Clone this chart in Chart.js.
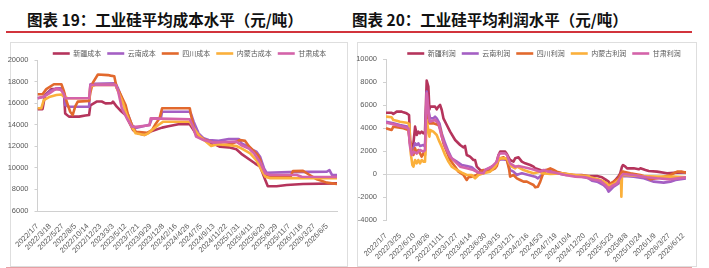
<!DOCTYPE html>
<html>
<head>
<meta charset="utf-8">
<script src="https://cdn.jsdelivr.net/npm/chart.js@4/dist/chart.umd.min.js"></script>
<style>
  body { margin: 0; width: 709px; height: 268px; background: #fff; position: relative; overflow: hidden; font-family: "Noto Sans CJK SC", sans-serif; }
  .title { position: absolute; top: 8px; font-size: 15.5px; font-weight: 700; color: #111; white-space: nowrap; line-height: 22px; }
  .rule { position: absolute; left: 6px; width: 686px; top: 31px; height: 2px; background: #d2343c; }
  .foot { position: absolute; left: 6px; width: 686px; top: 267px; height: 1px; background: #e6a0a4; }
  .frame { position: absolute; top: 42px; height: 225px; border: 1px solid #dedede; box-sizing: border-box; }
  canvas { position: absolute; top: 42px; }
</style>
</head>
<body>
<div class="title" style="left:27px">图表 19：工业硅平均成本水平（元/吨）</div>
<div class="title" style="left:352px">图表 20：工业硅平均利润水平（元/吨）</div>
<div class="rule"></div>
<div class="frame" style="left:10px;width:338px"></div>
<div class="frame" style="left:357px;width:340px"></div>
<div class="foot"></div>
<canvas id="cost" width="347" height="224" style="left:0px"></canvas>
<canvas id="profit" width="346" height="224" style="left:350px"></canvas>
<script>
// series names and colours (Excel order: 新疆, 云南, 四川, 内蒙古, 甘肃)
const costNames = ["新疆成本", "云南成本", "四川成本", "内蒙古成本", "甘肃成本"];
const profitNames = ["新疆利润", "云南利润", "四川利润", "内蒙古利润", "甘肃利润"];
const colors = ["#b5345c", "#a45fc4", "#e2692d", "#fbb03b", "#d463a9"];

// x tick labels, one every 10 weeks (cost) / 11 weeks (profit)
const costTicks = ["2022/1/7", "2022/3/18", "2022/5/27", "2022/8/5", "2022/10/14", "2022/12/23", "2023/3/3", "2023/5/12",
  "2023/7/21", "2023/9/29", "2023/12/8", "2024/2/16", "2024/4/26", "2024/7/5", "2024/9/13", "2024/11/22",
  "2025/1/31", "2025/4/11", "2025/6/20", "2025/8/29", "2025/11/7", "2026/1/16", "2026/3/27", "2026/6/5"];
const profitTicks = ["2022/1/7", "2022/3/25", "2022/6/10", "2022/8/26", "2022/11/11", "2023/1/27", "2023/4/14", "2023/6/30",
  "2023/9/15", "2023/12/1", "2024/2/16", "2024/5/3", "2024/7/19", "2024/10/4", "2024/12/20", "2025/3/7",
  "2025/5/23", "2025/8/8", "2025/10/24", "2026/1/9", "2026/3/27", "2026/6/12"];

// cost, [week, 元/吨]
const xjCost = [[0,15450],[4,15450],[6,16750],[11,17300],[18,17300],[21,16950],[22,15050],[25,14750],[33,14750],[38,14850],
  [41,14900],[42,15800],[47,16150],[51,16150],[54,15980],[59,16000],[60,16140],[63,15670],[66,15300],[70,14900],[73,14200],
  [76,13500],[80,13200],[85,13050],[91,13420],[99,13730],[104,13850],[112,14040],[121,14040],[124,13510],[127,12950],
  [130,12740],[136,12360],[141,12180],[145,11960],[152,11900],[158,11720],[162,11300],[169,10730],[173,10400],[177,10110],
  [181,8875],[183,8300],[190,8300],[198,8410],[211,8500],[238,8560]];
const ynCost = [[0,16450],[5,16600],[10,17100],[15,17370],[19,17370],[21,16900],[22,15830],[25,15670],[41,15670],[42,17740],
  [45,17800],[62,17840],[64,17370],[68,16140],[70,15300],[72,14900],[75,13970],[78,13700],[89,14000],[91,14590],[98,14590],
  [99,15200],[121,15200],[122,15000],[124,14300],[128,13200],[132,12740],[136,12580],[144,12500],[152,12680],[160,12680],
  [162,12300],[167,11970],[171,11660],[174,11500],[177,11000],[180,9960],[182,9550],[200,9600],[230,9650],[232,9780],
  [234,9340],[238,9340]];
const scCost = [[0,16820],[4,16820],[7,17300],[13,17750],[19,17750],[21,17100],[23,16200],[26,15200],[28,14900],[30,15700],
  [32,16140],[41,16200],[42,17000],[44,17900],[48,18650],[56,18600],[58,18550],[61,18500],[63,17400],[65,17060],[70,15830],
  [72,14900],[75,13970],[78,13340],[83,13300],[87,13250],[91,13500],[94,14100],[97,14590],[99,15520],[121,15520],[122,14900],
  [125,13360],[129,12890],[133,12580],[139,12370],[147,12120],[154,12200],[157,12370],[161,12580],[165,12500],[168,12000],
  [171,11660],[175,11200],[177,10730],[179,9800],[181,9350],[185,9200],[201,9150],[203,9700],[211,9720],[214,9500],
  [222,8940],[230,8630],[238,8500]];
const nmgCost = [[0,15520],[3,15520],[5,16290],[10,16600],[15,16750],[19,16800],[21,16600],[24,16450],[41,16450],[42,17530],
  [46,17680],[62,17680],[64,17100],[68,16000],[70,15200],[73,14300],[75,13800],[78,13200],[83,13100],[85,13050],[88,13200],
  [91,13510],[96,13970],[100,14280],[121,14280],[124,13700],[129,12900],[134,12430],[138,12030],[143,12200],[158,12030],
  [162,11800],[169,11350],[174,10700],[178,9800],[181,9180],[185,9030],[238,9030]];
const gsCost = [[0,16450],[5,16600],[10,16950],[15,17370],[19,17200],[21,16800],[22,16450],[41,16450],[42,17680],[62,17700],
  [64,17150],[67,15520],[71,14600],[75,13820],[78,13800],[89,13950],[90,14590],[121,14500],[123,14000],[126,12900],
  [132,12580],[140,12340],[149,12400],[158,12430],[162,12100],[168,11800],[172,11350],[177,10500],[181,9490],[185,9340],
  [206,9340],[210,9180],[238,9150]];

// profit, [week, 元/吨]
const xjProfit = [[0,5340],[4.4,5340],[5.7,5226],[8.3,5430],[12.2,5430],[13.5,5371],[16,5284],[17.9,5140],[18.7,2970],
  [20,2250],[21.3,2680],[22.6,4127],[23.9,3404],[25.1,3693],[26.4,3548],[27.7,3693],[29,3548],[30.3,3693],[31.6,8120],
  [32.9,7600],[33.7,5631],[34.2,5863],[38.1,5863],[39.4,5631],[40.7,5863],[42,6008],[43.3,5573],[44.6,4850],[47.2,4272],
  [49.8,3693],[53.7,2970],[57.6,2536],[60,2333],[61.4,2449],[62.7,1668],[65.3,1523],[67.9,1234],[69.2,1234],[70.5,655],
  [73.1,366],[75.7,222],[80.9,366],[82.2,655],[84.8,655],[87.4,1668],[88.7,1957],[92.6,1957],[93.9,1750],[96.4,1234],
  [99,1089],[100.3,1379],[102.9,1465],[105.5,1089],[108.1,945],[112,800],[114.6,655],[115.9,511],[119.8,366],[122.4,222],
  [123.7,366],[128,200],[140,-68],[152,-68],[157,-150],[163.9,-155],[167.8,-270],[170.3,-444],[172.9,-646],[174.2,-936],
  [175.5,-791],[178.1,-502],[180.7,-155],[181.9,77],[183.3,655],[184.1,800],[185.9,655],[187.2,511],[192.4,511],[196.3,425],
  [197.6,511],[201.5,366],[204.1,280],[210.5,222],[218.3,77],[226.1,135],[233,160]];
const ynProfit = [[0,4561],[5.7,4416],[10.9,4272],[17.4,4127],[18.7,2536],[20,2102],[21.3,2247],[22.6,2681],[23.9,2536],
  [25.1,2681],[26.4,2449],[29,2536],[30.3,2391],[31.6,7165],[32.9,5573],[34.2,4850],[36.8,4850],[38.1,4995],[39.4,4850],
  [41.5,4416],[43.3,3548],[45.9,2681],[48.5,1957],[51,1379],[55,1089],[58.9,800],[62.7,713],[66.6,598],[69.2,366],
  [71.8,135],[74.4,222],[77,366],[79.6,511],[82.2,655],[84.8,800],[87.4,1234],[90,1300],[93.9,1234],[96.4,366],[99,222],
  [101.6,-68],[102.9,0],[105.5,77],[110.7,-68],[115.9,-212],[118,-357],[121.1,-68],[122.4,222],[124.9,366],[128.9,222],
  [136.6,77],[144.4,-68],[152.2,-212],[157.4,-357],[160,-560],[163.9,-646],[169,-936],[171.6,-1225],[172.9,-1515],
  [174.2,-1370],[176.8,-1080],[180.7,-791],[183.3,-212],[184.6,-155],[192.4,-212],[200.2,-357],[208,-646],[215.7,-730],
  [220.9,-646],[224.8,-502],[233,-357]];
const scProfit = [[0,3982],[4.4,3838],[5.7,4127],[13.5,3982],[17.4,3838],[18.7,2681],[20,1957],[21.3,1668],[22.6,2247],
  [23.9,1813],[25.1,2102],[27.7,1523],[29,1813],[30.3,1668],[31.6,5500],[33.7,4416],[36.8,4416],[40.7,4272],[42,3982],
  [44.6,2681],[47.2,1957],[49.8,1234],[53.7,655],[56.3,222],[60.2,-68],[62.7,-502],[64,-270],[66.6,-212],[70.5,-68],
  [73.1,222],[75.7,366],[78.3,280],[82.2,366],[84.8,511],[86.1,713],[87.4,1234],[88.7,1379],[91.3,1465],[93.9,1234],
  [95.7,366],[96.4,-212],[99,-68],[101.6,-357],[104.2,-502],[106.8,-646],[109.4,-646],[112,-791],[114.6,-936],[115.9,-1138],
  [118,-1080],[119.8,-646],[121.6,-68],[123.7,222],[124.9,366],[127.6,511],[130.2,366],[132.7,222],[136.6,77],[144.4,-68],
  [149.6,-155],[154.8,-212],[160,-357],[163.9,-444],[169,-646],[171.6,-849],[172.9,-1022],[174.2,-791],[176.8,-646],
  [180.7,-357],[181.9,-68],[183.3,222],[184.6,222],[189.8,77],[197.6,-68],[201.5,-212],[205.4,-444],[210.5,-357],
  [215.7,-212],[220.9,-68],[226.1,222],[230,222],[233,135]];
const nmgProfit = [[0,4995],[4.4,4937],[5.7,4706],[8.3,4648],[10.9,4561],[16,4474],[18.1,4358],[19.2,1813],[20.5,800],
  [21.3,655],[22.6,1234],[23.9,945],[25.1,1234],[26.4,945],[27.7,1234],[29,1089],[30.3,1089],[31.6,4706],[33.7,3259],
  [34.2,3838],[36.8,3693],[39.4,3404],[41.5,2825],[43.3,2391],[45.9,1668],[48.5,1089],[51,655],[55,366],[58.9,135],
  [62.7,-68],[66.6,-68],[69.2,-357],[71.8,-68],[75.7,77],[80.9,222],[84.8,655],[87.4,1234],[88.7,1379],[93.9,1379],
  [95.7,945],[97.7,655],[100.3,511],[101.6,655],[102.9,598],[106.8,366],[110.7,222],[114.6,77],[119.8,222],[121.1,77],
  [127.6,20],[136.6,77],[147,-68],[157.4,-155],[158.7,-270],[166.4,-502],[171.6,-791],[172.9,-1022],[176.8,-849],
  [180.7,-502],[182.5,-357],[182.8,-1948],[183.3,-68],[184.6,-68],[197.6,-155],[210.5,-212],[223.5,-212],[233,-270]];
const gsProfit = [[0,4474],[5.7,4330],[10.9,4185],[17.4,3982],[18.7,2391],[20,1668],[21.3,1957],[23.9,1813],[26.4,2102],
  [29,1957],[30.3,2102],[31.6,7020],[33.7,4706],[34.2,4561],[38.1,4706],[40.7,4416],[43.3,3259],[45.9,2391],[49.8,1523],
  [53.7,1089],[57.6,655],[62.7,511],[67.9,366],[71.8,135],[75.7,77],[77,366],[82.2,655],[86.1,1089],[87.4,1668],
  [88.7,1813],[92.6,1813],[93.9,1668],[96.4,945],[100.3,655],[102.9,713],[105.5,655],[110.7,511],[115.9,366],[119.8,222],
  [122.4,366],[126.2,222],[131.4,135],[139.2,-68],[147,-212],[154.8,-270],[160,-444],[166.4,-560],[170.3,-936],
  [172.9,-1225],[175.5,-1022],[179.4,-791],[182.5,-212],[184.1,19],[192.4,-68],[202.8,-270],[210.5,-357],[220.9,-444],
  [233,-270]];

const costSeries = [xjCost, ynCost, scCost, nmgCost, gsCost];
const profitSeries = [xjProfit, ynProfit, scProfit, nmgProfit, gsProfit];

const tickFont = { family: "'Liberation Sans', Arial, sans-serif", size: 7.5 };
const grey = "#595959";
const axisGrey = "#d0d0d0";

// fixes the legend height and moves it sideways after layout
const legendBox = {
  id: "legendBox",
  beforeInit(chart, args, opts) {
    const fit = chart.legend.fit;
    chart.legend.fit = function () {
      fit.call(this);
      this.height = opts.height;
    };
  },
  afterLayout(chart, args, opts) {
    chart.legend.left += opts.shift;
    chart.legend.right += opts.shift;
  },
};

function makeDatasets(names, series) {
  return series.map((data, i) => ({
    label: names[i],
    data: data,
    borderColor: colors[i],
    backgroundColor: colors[i],
    borderWidth: 2.6,
    pointRadius: 0,
    borderJoinStyle: "round",
    tension: 0,
    order: series.length - i, // last series drawn on top, like Excel
  }));
}

function makeChart(id, cfg) {
  return new Chart(document.getElementById(id), {
    type: "line",
    data: { datasets: makeDatasets(cfg.names, cfg.series) },
    plugins: [legendBox],
    options: {
      responsive: false,
      animation: false,
      layout: { padding: { left: 0, right: 10, top: 2, bottom: 0 } },
      plugins: {
        legendBox: { height: cfg.legendHeight, shift: cfg.legendShift },
        tooltip: { enabled: false },
        legend: {
          position: "top",
          align: "center",
          labels: {
            usePointStyle: true,
            pointStyle: "line",
            pointStyleWidth: 17,
            padding: 6,
            color: grey,
            font: { family: "'Noto Sans CJK SC', sans-serif", size: 7 },
            sort: (a, b) => a.datasetIndex - b.datasetIndex,
          },
        },
      },
      scales: {
        x: {
          type: "linear",
          min: 0,
          max: cfg.xMax,
          afterFit: (s) => { s.height = cfg.xHeight; },
          grid: { display: false },
          border: { display: cfg.xBorder, color: axisGrey },
          ticks: {
            stepSize: cfg.step,
            includeBounds: false,
            autoSkip: false,
            minRotation: 45,
            maxRotation: 45,
            padding: 3,
            color: grey,
            font: tickFont,
            callback: (v) => cfg.ticks[Math.round(v / cfg.step)],
          },
        },
        y: {
          min: cfg.yMin,
          max: cfg.yMax,
          afterFit: (s) => { s.width = cfg.yWidth; },
          grid: {
            display: true,
            drawOnChartArea: cfg.zeroLine,
            drawTicks: true,
            tickLength: 3,
            tickColor: axisGrey,
            color: (c) => (c.tick && c.tick.value === 0 ? "#d9d9d9" : "rgba(0,0,0,0)"),
          },
          border: { display: true, color: axisGrey },
          ticks: { stepSize: 2000, padding: 6, color: grey, font: tickFont, callback: (v) => String(v) },
        },
      },
    },
  });
}

makeChart("cost", {
  names: costNames, series: costSeries, ticks: costTicks, step: 10, xMax: 238,
  yMin: 6000, yMax: 20000, yWidth: 37.5, xHeight: 55, xBorder: true, zeroLine: false,
  legendHeight: 16, legendShift: 21,
});
makeChart("profit", {
  names: profitNames, series: profitSeries, ticks: profitTicks, step: 11, xMax: 233,
  yMin: -4000, yMax: 10000, yWidth: 36, xHeight: 45.7, xBorder: false, zeroLine: true,
  legendHeight: 15, legendShift: 26,
});
</script>
</body>
</html>
